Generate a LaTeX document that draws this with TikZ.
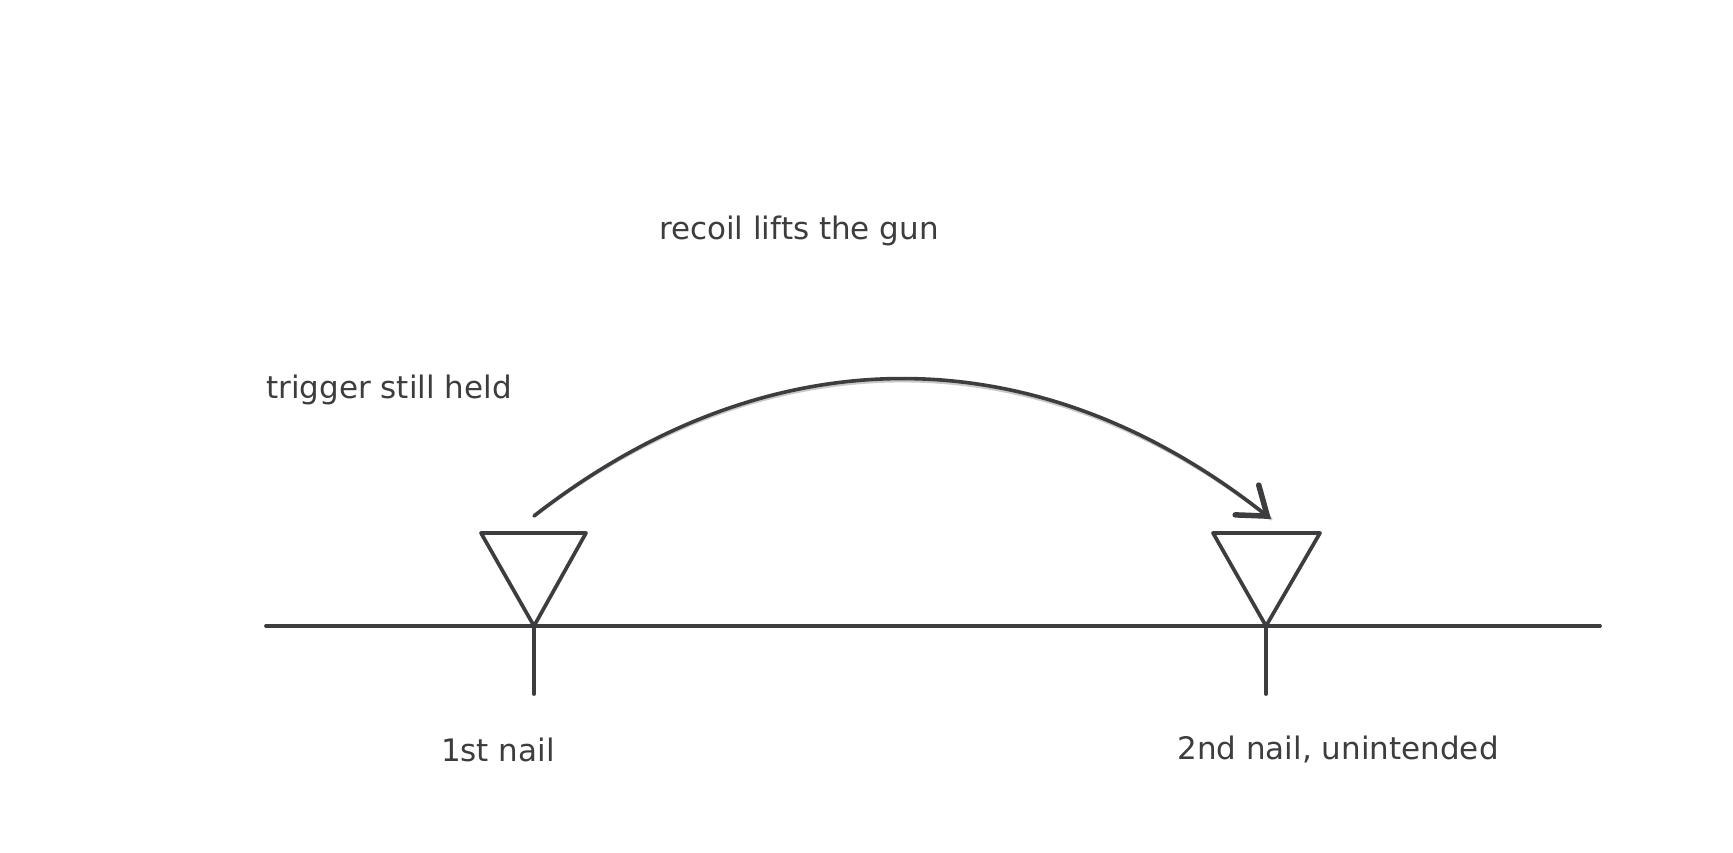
\documentclass[tikz,border=0pt]{standalone}
\usepackage{fontspec}
\setmainfont{DejaVu Sans}
\usetikzlibrary{arrows.meta}
\definecolor{ink}{HTML}{3D3D40}
\definecolor{shade}{HTML}{C9C9C9}
\begin{document}
\begin{tikzpicture}[x=1pt,y=-1pt,
  stroke/.style={draw=ink,line width=3.6pt,line cap=round,line join=round},
  shadow/.style={draw=shade,line width=3.6pt,line cap=round,line join=round,shift={(2,2)}},
  lbl/.style={text=ink,font=\fontsize{31}{34}\selectfont,inner sep=0pt},
  tip/.style={-{Straight Barb[length=26pt,width=38pt,line width=5.5pt,line cap=round]}}]
\useasboundingbox (0,0) rectangle (1733,853);
\fill[white] (0,0) rectangle (1733,853);
% named points
\coordinate (gL) at (266,626);
\coordinate (gR) at (1600,626);
\coordinate (a1) at (534,626);
\coordinate (a2) at (1266,626);
\coordinate (t1l) at (481,533);
\coordinate (t1r) at (586,533);
\coordinate (t2l) at (1213,533);
\coordinate (t2r) at (1320,533);
\coordinate (k1) at (534,694);
\coordinate (k2) at (1266,694);
\coordinate (s) at (534,516);
\coordinate (e) at (1271,519);
% shadows
\draw[shadow] (gL) -- (gR);
\draw[shadow] (t1l) -- (t1r) -- (a1) -- cycle;
\draw[shadow] (t2l) -- (t2r) -- (a2) -- cycle;
\draw[shadow] (a1) -- (k1);
\draw[shadow] (a2) -- (k2);
\draw[shadow] (s) .. controls (769,333) and (1036,333) .. (e);
% strokes
\draw[stroke] (gL) -- (gR);
\draw[stroke] (t1l) -- (t1r) -- (a1) -- cycle;
\draw[stroke] (t2l) -- (t2r) -- (a2) -- cycle;
\draw[stroke] (a1) -- (k1);
\draw[stroke] (a2) -- (k2);
\draw[stroke,tip] (s) .. controls (769,333) and (1036,333) .. (e);
% labels
\node[lbl] (recoil) at (799,231) {recoil lifts the gun};
\node[lbl,anchor=west] (trigger) at (266,390) {trigger still held};
\node[lbl] (n1) at (498,750) {1st nail};
\node[lbl] (n2) at (1338,750) {2nd nail, unintended};
\end{tikzpicture}
\end{document}
